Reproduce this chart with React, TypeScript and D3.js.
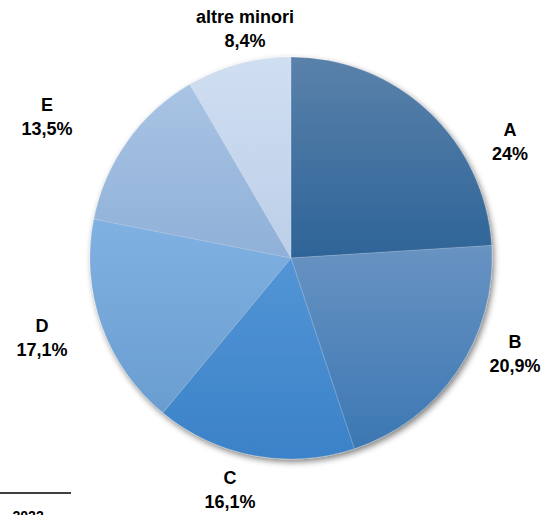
import React from "react";
import * as d3 from "d3";

const categories = ["A", "B", "C", "D", "E", "altre minori"];
const values = [24, 20.9, 16.1, 17.1, 13.5, 8.4];
const valueLabels = ["24%", "20,9%", "16,1%", "17,1%", "13,5%", "8,4%"];
const topColors = ["#5a81aa", "#6893c2", "#5395d6", "#80b1e2", "#a9c4e4", "#d0def1"];
const bottomColors = ["#2e6498", "#3c77b3", "#3b82c8", "#6a9dd0", "#8fb0d8", "#bccfe9"];
const labelPos: [number, number][] = [
  [510, 130],
  [515, 342],
  [230, 478],
  [42, 326],
  [47, 105],
  [245, 17],
];

export default function App() {
  const W = 547, H = 515;
  const cx = 291, cy = 258, r = 201;
  const pie = d3.pie<number>().sort(null).value((d) => d).startAngle(0).endAngle(2 * Math.PI);
  const arcs = pie(values);
  const arc = d3.arc<d3.PieArcDatum<number>>().innerRadius(0).outerRadius(r);
  return (
    <svg width={W} height={H} style={{ position: "absolute", left: 0, top: 0, fontFamily: "Liberation Sans, Arial, sans-serif" }}>
      <defs>
        <filter id="sh" x="-20%" y="-20%" width="140%" height="140%">
          <feGaussianBlur in="SourceAlpha" stdDeviation="3" />
          <feOffset dx="2" dy="3" result="b" />
          <feComponentTransfer>
            <feFuncA type="linear" slope="0.5" />
          </feComponentTransfer>
          <feMerge>
            <feMergeNode />
            <feMergeNode in="SourceGraphic" />
          </feMerge>
        </filter>
        {arcs.map((a, i) => (
          <linearGradient key={i} id={`g${i}`} x1="0" y1="0" x2="0" y2="1">
            <stop offset="0" stopColor={topColors[i]} />
            <stop offset="1" stopColor={bottomColors[i]} />
          </linearGradient>
        ))}
      </defs>
      <g transform={`translate(${cx},${cy})`} filter="url(#sh)">
        {arcs.map((a, i) => (
          <path key={i} d={arc(a) || ""} fill={`url(#g${i})`} stroke="#ffffff" strokeOpacity={0.25} strokeWidth={0.6} />
        ))}
      </g>
      {arcs.map((a, i) => (
        <text key={i} x={labelPos[i][0]} y={labelPos[i][1]} textAnchor="middle" fontWeight="bold" fontSize={18} fill="#000">
          <tspan x={labelPos[i][0]} dy="0.35em">{categories[i]}</tspan>
          <tspan x={labelPos[i][0]} dy="1.33em">{valueLabels[i]}</tspan>
        </text>
      ))}
      <line x1={0} x2={71} y1={493} y2={493} stroke="#000" strokeWidth={1.5} />
      <text x={4} y={521} fontWeight="bold" fontSize={14} fill="#000">- 2022</text>
    </svg>
  );
}
